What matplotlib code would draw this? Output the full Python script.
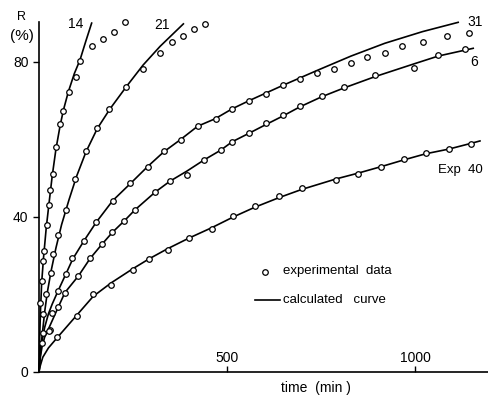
import matplotlib
matplotlib.use("Agg")
import matplotlib.pyplot as plt

plt.rcParams.update({"font.family": ["Liberation Sans", "DejaVu Sans"],
                     "font.size": 10})

# experimental data (time in min, R in %)
exp14_t = [3, 7, 11.5, 13, 20, 26, 30, 36, 44, 56, 65, 80, 98, 109, 142, 171, 200, 229]
exp14_R = [17.7, 23.4, 28.6, 31.2, 38, 43, 47, 51, 58, 64, 67.4, 72.3, 76.2, 80.3, 84, 86, 87.7, 90.2]
exp21_t = [10, 11.5, 19, 31, 38, 51, 71, 97, 126, 155, 185, 231, 277, 322, 353, 382, 412, 441]
exp21_R = [10, 15, 20, 25.5, 30.5, 35.4, 41.8, 49.8, 56.9, 62.9, 67.9, 73.5, 78.1, 82.4, 85, 86.7, 88.5, 89.7]
exp31_t = [7, 29, 34, 51, 72, 89, 120, 152, 196, 242, 291, 332, 377, 422, 470, 514, 559,
           605, 650, 694, 740, 785, 829, 873, 920, 966, 1022, 1084, 1145]
exp31_R = [7.5, 10.8, 15.3, 20.9, 25.3, 29.3, 33.9, 38.6, 44.2, 48.7, 53, 56.9, 59.9, 63.5, 65.2, 67.8, 70,
           71.7, 74, 75.6, 77.1, 78.1, 79.8, 81.2, 82.4, 84, 85, 86.7, 87.4]
exp6_t = [27, 51, 69, 105, 136, 167, 195, 227, 255, 309, 348, 393, 439, 483, 514, 559,
          605, 648, 694, 752, 812, 894, 998, 1062, 1133]
exp6_R = [10.7, 16.7, 20.5, 24.8, 29.3, 32.9, 36, 39, 41.8, 46.4, 49.2, 50.8, 54.7, 57.2, 59.4, 61.6,
          64.2, 66.3, 68.5, 71.2, 73.5, 76.6, 78.3, 81.8, 83.3]
exp40_t = [47, 100, 144, 192, 249, 293, 342, 398, 459, 517, 574, 639, 699, 790, 849, 911,
           970, 1029, 1090, 1150]
exp40_R = [8.9, 14.5, 20, 22.5, 26.2, 29.2, 31.5, 34.5, 36.9, 40.3, 42.7, 45.3, 47.4, 49.5, 51.2, 52.8,
           54.9, 56.4, 57.4, 58.8]

# calculated curves
calc14_t = [0, 1.5, 4, 7, 12, 19, 26, 35, 45, 56, 65, 78, 94, 109, 125, 140]
calc14_R = [0, 8, 16, 23, 29.5, 37, 43, 50.5, 57.5, 63.5, 67.6, 72.3, 77, 80.5, 85.5, 90]
calc21_t = [0, 3, 9, 15, 22, 32, 45, 60, 80, 100, 125, 155, 189, 233, 277, 322, 384]
calc21_R = [0, 5, 10, 15.5, 20.5, 26, 32, 38, 44.5, 50.5, 56.8, 62.8, 67.9, 73.7, 79.2, 84, 89.8]
calc31_t = [0, 3, 8, 15, 25, 35, 51, 72, 90, 120, 152, 196, 244, 289, 332, 377, 422, 468, 514,
            559, 650, 740, 830, 920, 1020, 1115]
calc31_R = [0, 4, 8, 11.5, 15, 17.5, 21, 25.4, 29.2, 33.9, 38.6, 44.2, 48.7, 53, 56.8, 60, 63.4, 65.3, 67.9,
            70, 74, 77.8, 81.5, 84.8, 87.8, 90.2]
calc6_t = [0, 3, 8, 15, 27, 51, 69, 105, 136, 167, 195, 227, 255, 309, 348, 393, 439, 483, 514,
           559, 605, 648, 694, 752, 812, 894, 998, 1062, 1155]
calc6_R = [0, 3.5, 6.5, 9, 11.5, 16.7, 20.5, 24.8, 29.3, 32.9, 36, 39, 41.8, 46.4, 49.2, 51.8, 54.7, 57.2, 59.4,
           61.6, 63.9, 66, 68.4, 71, 73.3, 76.2, 79.5, 81.5, 83.5]
calc40_t = [0, 3, 10, 25, 47, 100, 144, 192, 249, 293, 342, 398, 459, 517, 574, 639, 699,
            790, 849, 911, 970, 1029, 1090, 1150, 1173]
calc40_R = [0, 1.5, 3.8, 6.2, 8.7, 14.6, 19.5, 23, 26.6, 29.2, 31.8, 34.5, 37.2, 40, 42.5, 45, 47.1,
            49.8, 51.3, 53, 54.7, 56.3, 57.5, 59, 59.6]

curve_labels = ["14", "21", "31", "6", "Exp  40"]

fig = plt.figure(figsize=(4.89, 3.99), dpi=100)
ax = fig.add_axes([0.0798, 0.0677, 0.9202, 0.8773])

for t, R in [(calc14_t, calc14_R), (calc21_t, calc21_R), (calc31_t, calc31_R),
             (calc6_t, calc6_R), (calc40_t, calc40_R)]:
    ax.plot(t, R, color="k", lw=1.2, zorder=2, clip_on=False)
for t, R in [(exp14_t, exp14_R), (exp21_t, exp21_R), (exp31_t, exp31_R),
             (exp6_t, exp6_R), (exp40_t, exp40_R)]:
    ax.plot(t, R, "o", ms=4, mfc="white", mec="k", mew=0.9, zorder=3, clip_on=False)

# curve labels
ax.text(98, 89.8, curve_labels[0], ha="center", va="center")
ax.text(327, 89.5, curve_labels[1], ha="center", va="center")
ax.text(1160, 90.3, curve_labels[2], ha="center", va="center")
ax.text(1158, 80, curve_labels[3], ha="center", va="center")
ax.text(1120, 52.1, curve_labels[4], ha="center", va="center", fontsize=9.5)

# legend drawn by hand
ax.plot([601], [25.8], "o", ms=4, mfc="white", mec="k", mew=0.9)
ax.text(649, 26, "experimental  data", va="center", fontsize=9.5)
ax.plot([574, 641], [18.6, 18.6], color="k", lw=1.2)
ax.text(649, 18.6, "calculated   curve", va="center", fontsize=9.5)

ax.set_xlim(0, 1197)
ax.set_ylim(0, 90.3)
for s in ["top", "right"]:
    ax.spines[s].set_visible(False)
for s in ["left", "bottom"]:
    ax.spines[s].set_linewidth(1.2)
ax.set_yticks([0, 40, 80])
ax.set_xticks([500, 1000])
ax.tick_params(axis="y", direction="out", length=4, width=1, labelsize=10)
ax.tick_params(axis="x", direction="in", length=4, width=1, labelsize=10, pad=-15)

fig.text(22 / 489, 1 - 17 / 399, "R", ha="center", va="center", fontsize=9)
fig.text(22 / 489, 1 - 36 / 399, "(%)", ha="center", va="center", fontsize=11)
fig.text(316 / 489, 1 - 388 / 399, "time  (min )", ha="center", va="center", fontsize=10)

fig.savefig("out.png", dpi=100)
